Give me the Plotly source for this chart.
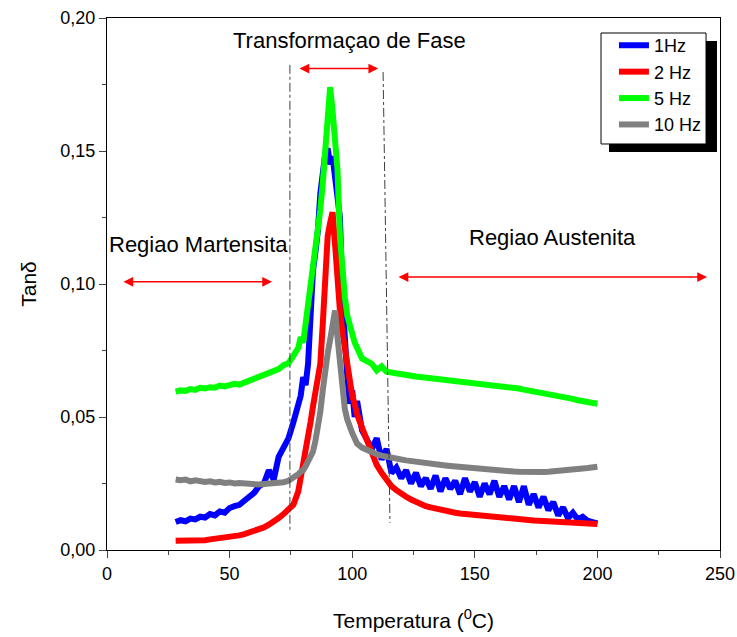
import plotly.graph_objects as go

# ---------------- data ----------------
temperatura = [28, 30, 32, 34, 36, 38, 40, 42, 44, 46, 48, 50, 52, 54, 56, 58, 60, 62, 64, 66, 68, 70, 72, 74, 76, 78,
               79, 80, 81, 82, 83, 84, 85, 86, 87, 88, 89, 90, 91, 92, 93, 94, 95, 96, 97, 98, 99, 100, 101,
               102, 104, 106, 108, 110, 112, 114, 116, 118, 120, 122, 124, 126, 128, 130, 132, 134, 136, 138, 140,
               142, 144, 146, 148, 150, 152, 154, 156, 158, 160, 162, 164, 166, 168, 170, 172, 174, 176, 178, 180,
               182, 184, 186, 188, 190, 192, 194, 196, 198, 200]

tan_1hz = [0.0105, 0.0112, 0.0108, 0.0118, 0.0115, 0.0125, 0.0122, 0.0135, 0.0130, 0.0145, 0.0140, 0.0158, 0.0165,
           0.0170, 0.0185, 0.0200, 0.0215, 0.0240, 0.0250, 0.0300, 0.0265, 0.0350, 0.0380, 0.0420, 0.0480, 0.0550,
           0.0580, 0.0650, 0.0620, 0.0700, 0.0900, 0.1050, 0.1120, 0.1200, 0.1340, 0.1400, 0.1490, 0.1510, 0.1450,
           0.1480, 0.1400, 0.1350, 0.1250, 0.0950, 0.0750, 0.0650, 0.0550, 0.0600, 0.0500,
           0.0560, 0.0450, 0.0420, 0.0380, 0.0420, 0.0340, 0.0380, 0.0290, 0.0310, 0.0270, 0.0300, 0.0250, 0.0290,
           0.0240, 0.0270, 0.0230, 0.0280, 0.0220, 0.0270, 0.0230, 0.0260, 0.0210, 0.0270, 0.0220, 0.0255, 0.0200,
           0.0250, 0.0210, 0.0260, 0.0200, 0.0240, 0.0190, 0.0240, 0.0180, 0.0240, 0.0170, 0.0210, 0.0160, 0.0200,
           0.0150, 0.0180, 0.0130, 0.0160, 0.0120, 0.0140, 0.0115, 0.0125, 0.0110, 0.0105, 0.0100]

tan_2hz = [0.0035, 0.0035, 0.0033, 0.0036, 0.0035, 0.0038, 0.0037, 0.0040, 0.0042, 0.0043, 0.0045, 0.0048, 0.0052,
           0.0055, 0.0060, 0.0065, 0.0070, 0.0078, 0.0085, 0.0095, 0.0105, 0.0120, 0.0135, 0.0150, 0.0170, 0.0220,
           0.0270, 0.0300, 0.0360, 0.0420, 0.0480, 0.0540, 0.0600, 0.0640, 0.0700, 0.0850, 0.1050, 0.1180, 0.1230,
           0.1270, 0.1150, 0.1000, 0.0900, 0.0820, 0.0750, 0.0690, 0.0630, 0.0580, 0.0550,
           0.0510, 0.0460, 0.0410, 0.0360, 0.0320, 0.0290, 0.0265, 0.0240, 0.0225, 0.0210, 0.0200, 0.0190, 0.0180,
           0.0172, 0.0165, 0.0160, 0.0155, 0.0150, 0.0146, 0.0143, 0.0140, 0.0137, 0.0135, 0.0132, 0.0130, 0.0128,
           0.0126, 0.0124, 0.0122, 0.0120, 0.0119, 0.0117, 0.0116, 0.0114, 0.0113, 0.0112, 0.0111, 0.0110, 0.0109,
           0.0108, 0.0107, 0.0106, 0.0105, 0.0104, 0.0103, 0.0102, 0.0101, 0.0100, 0.0099, 0.0098]

tan_5hz = [0.0595, 0.0600, 0.0598, 0.0605, 0.0602, 0.0610, 0.0607, 0.0612, 0.0610, 0.0618, 0.0615, 0.0620, 0.0625,
           0.0622, 0.0630, 0.0635, 0.0642, 0.0650, 0.0658, 0.0665, 0.0672, 0.0680, 0.0695, 0.0702, 0.0730, 0.0760,
           0.0800, 0.0780, 0.0850, 0.0920, 0.1000, 0.1050, 0.1100, 0.1170, 0.1280, 0.1380, 0.1480, 0.1600, 0.1740,
           0.1650, 0.1500, 0.1430, 0.1180, 0.1050, 0.0950, 0.0880, 0.0840, 0.0800, 0.0780,
           0.0760, 0.0720, 0.0710, 0.0700, 0.0675, 0.0690, 0.0670, 0.0668, 0.0665, 0.0660, 0.0658, 0.0655, 0.0652,
           0.0650, 0.0648, 0.0645, 0.0643, 0.0640, 0.0640, 0.0638, 0.0635, 0.0633, 0.0632, 0.0630, 0.0630, 0.0628,
           0.0625, 0.0622, 0.0620, 0.0618, 0.0615, 0.0612, 0.0610, 0.0607, 0.0603, 0.0600, 0.0597, 0.0593, 0.0590,
           0.0585, 0.0582, 0.0578, 0.0575, 0.0572, 0.0568, 0.0563, 0.0560, 0.0557, 0.0553, 0.0550]

tan_10hz = [0.0265, 0.0262, 0.0265, 0.0258, 0.0262, 0.0258, 0.0256, 0.0258, 0.0254, 0.0256, 0.0252, 0.0254, 0.0250,
            0.0252, 0.0250, 0.0248, 0.0250, 0.0246, 0.0248, 0.0250, 0.0248, 0.0252, 0.0255, 0.0260, 0.0270, 0.0285,
            0.0295, 0.0300, 0.0315, 0.0330, 0.0345, 0.0370, 0.0410, 0.0460, 0.0520, 0.0600, 0.0680, 0.0740, 0.0790,
            0.0850, 0.0900, 0.0800, 0.0690, 0.0600, 0.0530, 0.0490, 0.0455, 0.0440, 0.0420,
            0.0400, 0.0385, 0.0375, 0.0365, 0.0360, 0.0355, 0.0350, 0.0347, 0.0344, 0.0340, 0.0337, 0.0334, 0.0332,
            0.0330, 0.0327, 0.0325, 0.0322, 0.0320, 0.0318, 0.0316, 0.0314, 0.0312, 0.0310, 0.0308, 0.0306, 0.0305,
            0.0303, 0.0301, 0.0300, 0.0298, 0.0297, 0.0296, 0.0295, 0.0294, 0.0293, 0.0292, 0.0292, 0.0292, 0.0293,
            0.0294, 0.0295, 0.0296, 0.0298, 0.0300, 0.0302, 0.0304, 0.0306, 0.0308, 0.0310, 0.0313]

series_names = ["1Hz", "2 Hz", "5 Hz", "10 Hz"]
series_values = [tan_1hz, tan_2hz, tan_5hz, tan_10hz]
series_colors = ["#0000ff", "#ff0000", "#00ff00", "#808080"]
draw_order = [0, 1, 3, 2]  # green drawn on top

x_ticks = [0, 50, 100, 150, 200, 250]
y_ticks = [0.00, 0.05, 0.10, 0.15, 0.20]

# ---------------- figure ----------------
FONT = "Liberation Sans, Arial, sans-serif"
fig = go.Figure()

for i in draw_order:
    fig.add_trace(go.Scatter(
        x=temperatura, y=series_values[i], name=series_names[i], mode="lines",
        line=dict(color=series_colors[i], width=6), legendrank=i + 1,
    ))

# dash-dot boundary lines of the transformation region
for (xa, ya, xb, yb) in [(74.6, 0.1824, 74.6, 0.0068), (112.6, 0.1797, 115.4, 0.0102)]:
    fig.add_shape(type="line", x0=xa, y0=ya, x1=xb, y1=yb, xref="x", yref="y",
                  line=dict(color="#404040", width=1, dash="dashdot"))

# double-headed red arrows
for (xa, xb, yy) in [(77.9, 110.6, 0.181), (6.1, 67.3, 0.1008), (118.3, 244.7, 0.1026)]:
    fig.add_annotation(x=xb, y=yy, ax=xa, ay=yy, xref="x", yref="y", axref="x", ayref="y",
                       text="", showarrow=True, arrowhead=2, arrowside="end+start",
                       arrowsize=1.3, arrowwidth=1.5, arrowcolor="#ff0000", standoff=0, startstandoff=0)

for (tx, ty, txt) in [(99.1, 0.1917, "Transformaçao de Fase"),
                      (37.5, 0.1147, "Regiao Martensita"),
                      (181.5, 0.1173, "Regiao Austenita")]:
    fig.add_annotation(x=tx, y=ty, xref="x", yref="y", text=txt, showarrow=False,
                       font=dict(family=FONT, size=22, color="black"))

# legend frame with drop shadow
fig.add_shape(type="rect", xref="paper", yref="paper", x0=0.8189, x1=0.9951, y0=0.7481, y1=0.9568,
              fillcolor="black", line=dict(width=0), layer="above")
fig.add_shape(type="rect", xref="paper", yref="paper", x0=0.8059, x1=0.9772, y0=0.7632, y1=0.9718,
              fillcolor="white", line=dict(color="black", width=1), layer="above")

fig.update_layout(
    width=737, height=637,
    margin=dict(l=107, r=17, t=18, b=87),
    plot_bgcolor="white", paper_bgcolor="white",
    separators=",.",
    font=dict(family=FONT, size=18, color="black"),
    showlegend=True,
    legend=dict(x=0.827, y=0.983, xanchor="left", yanchor="top",
                bgcolor="rgba(0,0,0,0)", borderwidth=0,
                font=dict(family=FONT, size=18), tracegroupgap=0, itemwidth=30),
)

fig.update_xaxes(
    range=[0, 250], tickvals=x_ticks, ticks="outside", ticklen=7, tickwidth=1,
    showline=True, linecolor="black", linewidth=1, mirror=True, showgrid=False, zeroline=False,
    minor=dict(ticks="outside", ticklen=4, dtick=25, tick0=0, showgrid=False),
    title=dict(text="Temperatura (<sup>0</sup>C)", font=dict(family=FONT, size=21), standoff=30),
    tickfont=dict(family=FONT, size=18), automargin=False,
)
fig.update_yaxes(
    range=[0, 0.20], tickvals=y_ticks, tickformat=".2f", ticks="outside", ticklen=7, tickwidth=1,
    showline=True, linecolor="black", linewidth=1, mirror=True, showgrid=False, zeroline=False,
    minor=dict(ticks="outside", ticklen=4, dtick=0.025, tick0=0, showgrid=False),
    title=dict(text="Tanδ", font=dict(family=FONT, size=21), standoff=18),
    tickfont=dict(family=FONT, size=18), automargin=False,
)

# remove the default 8px page margin so the figure fills the window exactly
fig.write_html("out.html", config={"displayModeBar": False},
               post_script="document.body.style.margin='0px';")
